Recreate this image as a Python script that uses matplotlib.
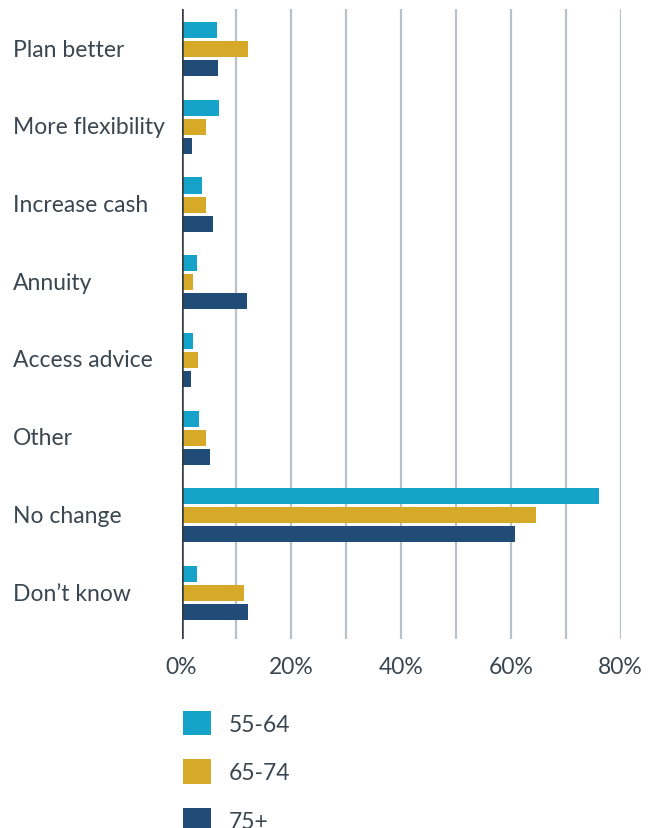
import matplotlib
matplotlib.use("Agg")
import matplotlib.pyplot as plt
import matplotlib.transforms as mtransforms
from matplotlib.patches import Patch
import numpy as np

plt.rcParams['font.family'] = ['Lato', 'DejaVu Sans']

categories = ["Plan better", "More flexibility", "Increase cash", "Annuity",
              "Access advice", "Other", "No change", "Don\u2019t know"]
series_names = ["55-64", "65-74", "75+"]
v_55_64 = [6.5, 6.8, 3.7, 2.8, 2.1, 3.2, 76.0, 2.8]
v_65_74 = [12.1, 4.5, 4.5, 2.1, 3.0, 4.5, 64.6, 11.4]
v_75p = [6.6, 1.9, 5.7, 11.9, 1.7, 5.2, 60.7, 12.1]
xticks = [0, 20, 40, 60, 80]
xtick_labels = ["0%", "20%", "40%", "60%", "80%"]

colors = ["#16a3c9", "#d6a928", "#224c78"]
text_color = "#3a4650"
FS = 16.5

W, H = 664, 829
fig = plt.figure(figsize=(W / 100, H / 100), dpi=100)
ax = fig.add_axes([181.5 / W, 1 - 640 / H, (620.7 - 181.5) / W, (640 - 10) / H])

y = np.arange(len(categories))
pitch = 0.245
bh = 0.206
for i, (vals, c) in enumerate(zip([v_55_64, v_65_74, v_75p], colors)):
    ax.barh(y + (i - 1) * pitch, vals, height=bh, color=c, label=series_names[i], zorder=3)

ax.set_xlim(0, 80)
ax.set_ylim(len(categories) - 1 + 0.59, -0.516)
for s in ax.spines.values():
    s.set_visible(False)
ax.axvline(0, color="#333a40", linewidth=1.8, zorder=4)
ax.set_yticks([])
ax.set_xticks(xticks)
ax.set_xticklabels(xtick_labels, fontsize=FS, color=text_color)
ax.set_xticks(np.arange(10, 80, 20), minor=True)
ax.grid(axis='x', which='both', color="#b9c1c8", linewidth=1.6, zorder=0)
ax.set_axisbelow(True)
ax.tick_params(axis='both', which='both', length=0)
ax.tick_params(axis='x', which='both', pad=12)

trans = mtransforms.blended_transform_factory(fig.transFigure, ax.transData)
for yi, cat in zip(y, categories):
    ax.text(13 / W, yi, cat, transform=trans, ha='left', va='center',
            fontsize=FS, color=text_color)

handles = [Patch(facecolor=c, edgecolor='none') for c in colors]
leg = fig.legend(handles, series_names, loc='upper left',
                 bbox_to_anchor=(174 / W, 1 - 703 / H), frameon=False,
                 fontsize=FS, handlelength=1.22, handleheight=1.25,
                 handletextpad=0.75, labelspacing=1.05, borderaxespad=0)
for t in leg.get_texts():
    t.set_color(text_color)

fig.savefig("out.png", dpi=100)
